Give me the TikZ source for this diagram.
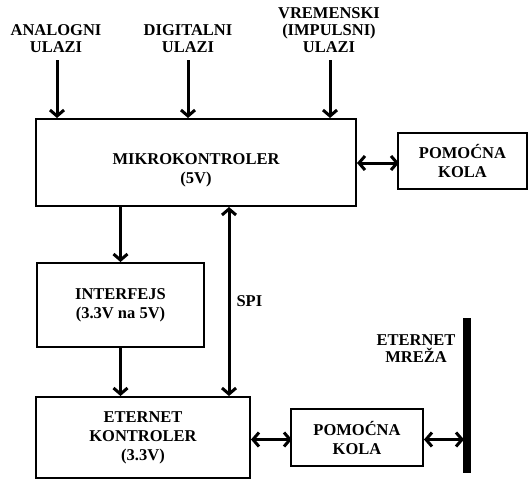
\documentclass[tikz,border=0pt]{standalone}
\usepackage{fontspec}
\setmainfont{Liberation Serif}
\usetikzlibrary{arrows.meta,positioning}

\begin{document}
\begin{tikzpicture}[x=1pt, y=-1pt,
  block/.style={draw, line width=2pt, align=center, inner sep=0pt,
                font=\fontsize{16.5}{19}\selectfont\bfseries},
  lbl/.style={align=center, inner sep=0pt, font=\fontsize{16.5}{17}\selectfont\bfseries},
  arrow/.style={-{Straight Barb[length=6pt,width=14pt]}, line width=3pt},
  dblarrow/.style={{Straight Barb[length=6pt,width=14pt]}-{Straight Barb[length=6pt,width=14pt]}, line width=3pt}
]
\useasboundingbox (0,0) rectangle (528,479);

% Main blocks
\node[block, minimum width=320, minimum height=87] (mcu) at (196,162.5) {\rule{0pt}{26pt}MIKROKONTROLER\\(5V)};
\node[block, minimum width=129, minimum height=56] (aux1) at (462.5,161) {POMO\'CNA\\KOLA};
\node[block, minimum width=167, minimum height=84] (iface) at (120.5,305) {INTERFEJS\\(3.3V na 5V)};
\node[block, minimum width=214, minimum height=81] (eth) at (143,437.5) {ETERNET\\KONTROLER\\(3.3V)};
\node[block, minimum width=132, minimum height=57] (aux2) at (357,437.5) {POMO\'CNA\\KOLA};

% Network line
\node[fill=black, inner sep=0pt, minimum width=8, minimum height=155] (net) at (467,395.5) {};
\node[lbl] (netlbl) at (416,349) {ETERNET\\MRE\v{Z}A};

% Inputs
\node[lbl, anchor=south] (in1) at (56,53) {ANALOGNI\\ULAZI};
\node[lbl, anchor=south] (in2) at (188,53) {DIGITALNI\\ULAZI};
\node[lbl, anchor=south] (in3) at (329,53) {VREMENSKI\\(IMPULSNI)\\ULAZI};

\coordinate (c1) at (57,0);
\coordinate (c3) at (330,0);
\draw[arrow] (in1.south -| c1) ++(0,7) -- (mcu.north -| c1);
\draw[arrow] (in2.south) ++(0,7) -- (mcu.north -| in2.south);
\draw[arrow] (in3.south -| c3) ++(0,7) -- (mcu.north -| c3);

% Connections
\draw[dblarrow] (aux1.west -| mcu.east) ++(0,2) -- ++(42,0);
\draw[arrow] (mcu.south -| iface.north) -- (iface.north);
\draw[arrow] (iface.south) -- (iface.south |- eth.north);

% SPI
\coordinate (spi) at (229,0);
\draw[dblarrow] (mcu.south -| spi) -- (eth.north -| spi)
  node[pos=0.5, right=6pt, lbl] {SPI};

% Ethernet side
\draw[dblarrow] (aux2.west -| eth.east) ++(0,2) -- ++(41,0);
\draw[dblarrow] (aux2.east) ++(0,2) -- ++(40,0);

\end{tikzpicture}
\end{document}
